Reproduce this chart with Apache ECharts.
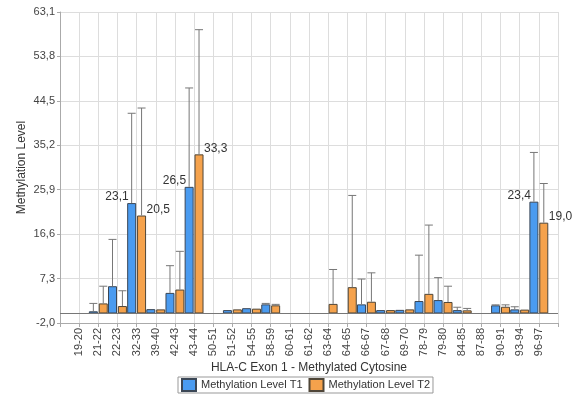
<!DOCTYPE html>
<html>
<head>
<meta charset="utf-8">
<script src="https://cdn.jsdelivr.net/npm/echarts@6/dist/echarts.min.js"></script>
<style>html,body{margin:0;padding:0;background:#fff}#c{width:572px;height:401px}</style>
</head>
<body>
<div id="c"></div>
<script>
const categories = ['19-20','21-22','22-23','32-33','39-40','42-43','43-44','50-51','51-52','54-55','58-59','60-61','61-62','63-64','64-65','66-67','67-68','69-70','78-79','79-80','84-85','87-88','90-91','93-94','96-97'];
const t1Values = [null,0.45,5.7,23.1,0.9,4.3,26.5,null,0.7,1.1,1.9,null,null,null,null,1.9,0.7,0.75,2.6,2.8,0.7,null,1.7,0.85,23.4];
const t2Values = [null,2.1,1.55,20.5,0.85,5.0,33.3,null,0.85,1.0,1.7,null,null,2.0,5.5,2.45,0.7,0.85,4.1,2.4,0.65,null,1.4,0.8,19.0];
const t1ErrTop = [null,2.1,15.5,41.9,null,10.0,47.2,null,null,null,2.1,null,null,null,null,7.2,null,null,12.2,7.5,1.3,null,1.8,1.4,33.7];
const t2ErrTop = [null,5.7,4.75,43.0,null,13.0,59.4,null,null,null,1.9,null,null,9.2,24.7,8.5,null,null,18.5,5.7,1.05,null,1.8,null,27.2];
const yTicks = {min: -2.0, max: 63.1, interval: 9.3};
const labelThreshold = 15;

const axisCats = [''].concat(categories, ['']);
const pad = v => [null].concat(v, [null]);
const fmt = v => v.toFixed(1).replace('.', ',');

const BAR_W = 9, GAP = 0.9;
function errData(vals, errs) {
  const out = [];
  vals.forEach((v, i) => { if (v != null && errs[i] != null) out.push([i + 1, v, errs[i]]); });
  return out;
}
function errSeries(vals, errs, side) {
  return {
    type: 'custom',
    z: 5,
    data: errData(vals, errs),
    encode: {x: 0, y: [1, 2]},
    renderItem: function (params, api) {
      const off = side * (BAR_W + GAP) / 2;
      const p0 = api.coord([api.value(0), api.value(1)]);
      const p1 = api.coord([api.value(0), api.value(2)]);
      const x = p0[0] + off;
      const style = {stroke: '#777', lineWidth: 1};
      return {
        type: 'group',
        children: [
          {type: 'line', shape: {x1: x, y1: p0[1], x2: x, y2: p1[1]}, style: style},
          {type: 'line', shape: {x1: x - 4, y1: p1[1], x2: x + 4, y2: p1[1]}, style: style}
        ]
      };
    }
  };
}

const chart = echarts.init(document.getElementById('c'));
chart.setOption({
  animation: false,
  textStyle: {fontFamily: 'Liberation Sans, Arial, sans-serif'},
  grid: {left: 60, right: 14, top: 12, bottom: 78},
  legend: {
    top: 377, left: 178,
    icon: 'rect',
    itemWidth: 14, itemHeight: 12, itemGap: 6,
    borderColor: '#999', borderWidth: 1, padding: [1, 3, 1, 3],
    textStyle: {color: '#333', fontSize: 11},
    data: ['Methylation Level T1', 'Methylation Level T2']
  },
  xAxis: {
    type: 'category',
    data: axisCats,
    boundaryGap: false,
    name: 'HLA-C Exon 1 - Methylated Cytosine',
    nameLocation: 'middle',
    nameGap: 39,
    nameMoveOverlap: false,
    nameTextStyle: {color: '#333', fontSize: 12},
    axisLine: {onZero: false, lineStyle: {color: '#aaa'}},
    axisTick: {show: true, interval: 0, length: 4, lineStyle: {color: '#aaa'}},
    axisLabel: {interval: 0, rotate: 90, color: '#444', fontSize: 11, margin: 5},
    splitLine: {show: true, interval: 0, lineStyle: {color: '#ddd'}}
  },
  yAxis: {
    type: 'value',
    min: yTicks.min, max: yTicks.max, interval: yTicks.interval,
    name: 'Methylation Level',
    nameLocation: 'middle',
    nameGap: 32,
    nameMoveOverlap: false,
    nameTextStyle: {color: '#333', fontSize: 12},
    axisLine: {show: true, lineStyle: {color: '#aaa'}},
    axisTick: {show: true, length: 3, lineStyle: {color: '#aaa'}},
    axisLabel: {color: '#444', fontSize: 11, margin: 5, formatter: v => fmt(v)},
    splitLine: {show: true, lineStyle: {color: '#ddd'}}
  },
  series: [
    {
      name: 'Methylation Level T1', type: 'bar', data: pad(t1Values),
      barWidth: BAR_W, barGap: '10%',
      itemStyle: {color: '#4a9bf0', borderColor: '#3b4756', borderWidth: 1},
      label: {show: true, position: 'top', align: 'right', offset: [-3, 5], color: '#333', fontSize: 12,
        formatter: p => (p.value != null && p.value > labelThreshold) ? fmt(p.value) : ''},
      markLine: {silent: true, symbol: 'none', label: {show: false},
        lineStyle: {color: '#777', type: 'solid', width: 1}, data: [{yAxis: 0}]}
    },
    {
      name: 'Methylation Level T2', type: 'bar', data: pad(t2Values),
      barWidth: BAR_W, barGap: '10%',
      itemStyle: {color: '#f5a24c', borderColor: '#4f4638', borderWidth: 1},
      label: {show: true, position: 'top', align: 'left', offset: [5, 5], color: '#333', fontSize: 12,
        formatter: p => (p.value != null && p.value > labelThreshold) ? fmt(p.value) : ''}
    },
    errSeries(t1Values, t1ErrTop, -1),
    errSeries(t2Values, t2ErrTop, 1)
  ]
});
</script>
</body>
</html>
